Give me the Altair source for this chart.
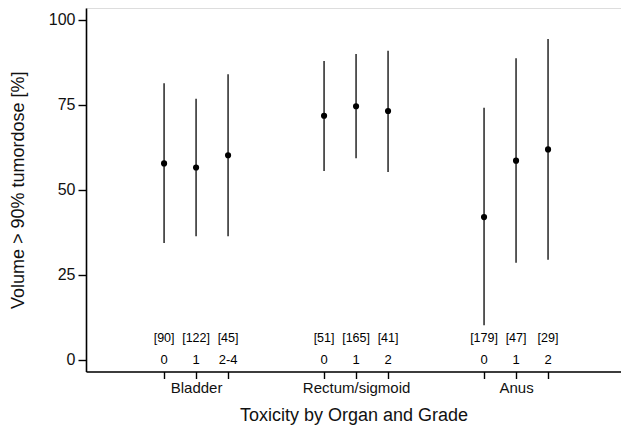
import altair as alt
import pandas as pd

# Toxicity groups and grades, with patient counts per grade
organs = ["Bladder", "Bladder", "Bladder",
          "Rectum/sigmoid", "Rectum/sigmoid", "Rectum/sigmoid",
          "Anus", "Anus", "Anus"]
grades = ["0", "1", "2-4", "0", "1", "2", "0", "1", "2"]
counts = ["[90]", "[122]", "[45]", "[51]", "[165]", "[41]", "[179]", "[47]", "[29]"]
slots = [0, 1, 2, 5, 6, 7, 10, 11, 12]

# Volume receiving > 90% of the tumour dose (%): centre and range
centre = [57.8, 56.6, 60.2, 71.8, 74.6, 73.2, 42.0, 58.6, 61.9]
low = [34.4, 36.4, 36.4, 55.6, 59.3, 55.3, 10.2, 28.6, 29.5]
high = [81.4, 76.8, 84.0, 87.9, 90.0, 90.9, 74.2, 88.7, 94.4]

group_names = ["Bladder", "Rectum/sigmoid", "Anus"]
group_slots = [1, 6, 11]
y_ticks = [0, 25, 50, 75, 100]

df = pd.DataFrame({
    "organ": organs, "grade": grades, "n": counts, "slot": slots,
    "centre": centre, "low": low, "high": high,
})

FONT = "Liberation Sans"
INK = "#111111"

# organ names appear only under the middle tick of each group
label_expr = " : ".join(
    f"datum.value == {s} ? '{g}'" for s, g in zip(group_slots, group_names)
) + " : ''"

x = alt.X(
    "slot:Q",
    scale=alt.Scale(domain=[-2.44, 14.28], nice=False, zero=False),
    axis=alt.Axis(
        title="Toxicity by Organ and Grade",
        values=slots,
        labelExpr=label_expr,
        grid=False,
        domainColor="black", domainWidth=1.6,
        tickColor="black", tickWidth=1.4, tickSize=7,
        labelFont=FONT, labelFontSize=15, labelColor=INK, labelPadding=2,
        labelFlush=False, labelOverlap=False,
        titleFont=FONT, titleFontSize=18, titleFontWeight="normal", titleColor=INK,
        titleY=49, titleBaseline="alphabetic",
    ),
)

y_scale = alt.Scale(domain=[-3.4, 103.5], nice=False, zero=False)

ranges = alt.Chart(df).mark_rule(color="#151515", strokeWidth=1.4).encode(
    x=x,
    y=alt.Y(
        "low:Q",
        scale=y_scale,
        axis=alt.Axis(
            title="Volume > 90% tumordose [%]",
            values=y_ticks,
            grid=False,
            domainColor="black", domainWidth=1.6,
            tickColor="black", tickWidth=1.4, tickSize=8,
            labelFont=FONT, labelFontSize=16, labelColor=INK, labelPadding=3,
            titleFont=FONT, titleFontSize=18, titleFontWeight="normal", titleColor=INK,
            titleX=-68, titleBaseline="middle",
        ),
    ),
    y2="high:Q",
)

points = alt.Chart(df).mark_circle(size=38, fill="#000000", opacity=1).encode(
    x="slot:Q",
    y=alt.Y("centre:Q", scale=y_scale),
)

grade_text = alt.Chart(df).mark_text(
    font=FONT, fontSize=13, fill="#000000", baseline="middle", align="center"
).encode(
    x="slot:Q",
    y=alt.YDatum(0),
    text="grade:N",
)

count_text = alt.Chart(df).mark_text(
    font=FONT, fontSize=12.5, fill="#000000", baseline="middle", align="center", dy=-22
).encode(
    x="slot:Q",
    y=alt.YDatum(0),
    text="n:N",
)

chart = alt.layer(ranges, points, grade_text, count_text).properties(
    width=535,
    height=363.5,
    padding={"left": 86, "top": 8, "right": 0, "bottom": 56},
    autosize=alt.AutoSizeParams(type="none"),
).configure_view(stroke=None).configure(background="white")

chart.save("out.html", embed_options={"renderer": "svg", "actions": False})
